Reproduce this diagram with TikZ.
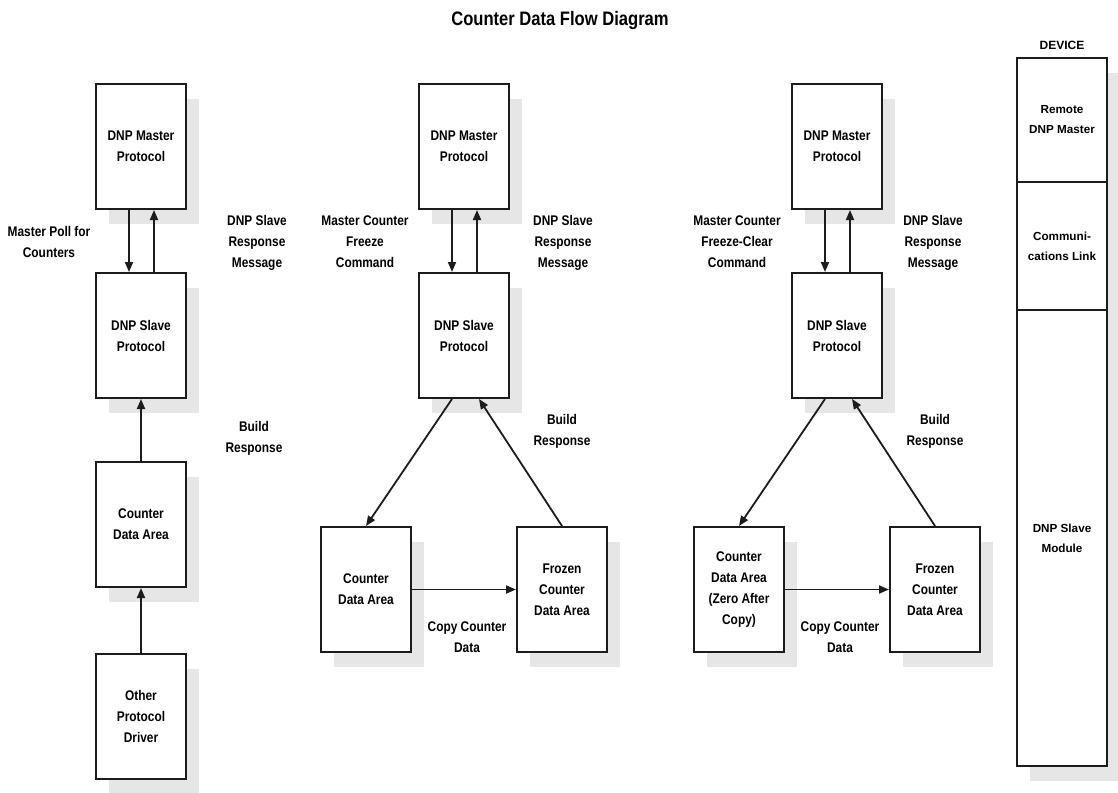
\documentclass[tikz,border=0pt]{standalone}
\usepackage{fontspec}
\newfontfamily\narrowsans{Liberation Sans}[FakeStretch=0.85]
\newfontfamily\plainsans{Liberation Sans}
\usetikzlibrary{arrows.meta,positioning,shadows,calc}
\definecolor{shade}{RGB}{230,230,230}
\definecolor{ink}{RGB}{28,28,28}

\begin{document}
\begin{tikzpicture}[x=1pt,y=-1pt,
    plainbox/.style={draw=ink,line width=2pt,fill=white,minimum width=90pt,minimum height=125pt,
      inner sep=0pt,align=center,font=\narrowsans\bfseries\fontsize{14}{21}\selectfont},
    block/.style={plainbox,drop shadow={shadow xshift=13pt,shadow yshift=-15pt,fill=shade,opacity=1}},
    devbox/.style={plainbox,minimum height=#1,font=\plainsans\bfseries\fontsize{11.7}{20}\selectfont},
    lbl/.style={align=center,inner sep=0pt,font=\narrowsans\bfseries\fontsize{14}{21}\selectfont},
    flow/.style={draw=ink,line width=1.8pt,-{Triangle[length=10pt,width=8pt]}}]
  \useasboundingbox (0,0) rectangle (1118,792);
  \node[lbl,anchor=base,font=\narrowsans\bfseries\fontsize{19.5}{24}\selectfont] (title) at (560,26) {Counter Data Flow Diagram};
  \foreach \c/\lt/\lx/\rx [count=\i] in {
      141/Master Poll for\\Counters/49/257,
      464/Master Counter\\Freeze\\Command/365/563,
      837/Master Counter\\Freeze-Clear\\Command/737/933}
  {
    \node[block] (m\i) at (\c,146.5) {DNP Master\\Protocol};
    \node[block] (s\i) at (\c,335.5) {DNP Slave\\Protocol};
    \draw[flow] ([xshift=-12pt]m\i.south) -- ([xshift=-12pt]s\i.north);
    \draw[flow] ([xshift=13pt]s\i.north) -- ([xshift=13pt]m\i.south);
    \node[lbl] (q\i) at (\lx,242) {\lt};
    \node[lbl] (r\i) at (\rx,243) {DNP Slave\\Response\\Message};
  }
  \node[block] (k1) at (141,524.5) {Counter\\Data Area};
  \node[block] (o1) at (141,716.5) {Other\\Protocol\\Driver};
  \draw[flow] (k1.north) -- (s1.south);
  \draw[flow] (o1.north) -- (k1.south);
  \node[lbl] (b1) at (254,438.5) {Build\\Response};
  \foreach \c/\t [count=\j from 2] in {
      464/Counter\\Data Area,
      837/Counter\\Data Area\\(Zero After\\Copy)}
  {
    \node[block] (k\j) at (\c-98,589.5) {\t};
    \node[block] (f\j) at (\c+98,589.5) {Frozen\\Counter\\Data Area};
    \draw[flow] ([xshift=-12pt]s\j.south) -- (k\j.north);
    \draw[flow] (f\j.north) -- ([xshift=15pt]s\j.south);
    \draw[flow] (k\j) -- (f\j);
    \node[lbl] (p\j) at (\c+3,637) {Copy Counter\\Data};
    \node[lbl] (b\j) at (\c+98,431.5) {Build\\Response};
  }
  \node[font=\plainsans\bfseries\fontsize{12}{14}\selectfont,inner sep=0pt] (dev) at (1062,45.5) {DEVICE};
  \node[block,minimum height=708pt] (column) at (1062,412) {};
  \node[devbox=124pt] (remote) at (1062,120) {Remote\\DNP Master};
  \node[devbox=128pt] (link) at (1062,246) {Communi-\\cations Link};
  \node[devbox=456pt] (module) at (1062,538) {DNP Slave\\Module};
\end{tikzpicture}
\end{document}
